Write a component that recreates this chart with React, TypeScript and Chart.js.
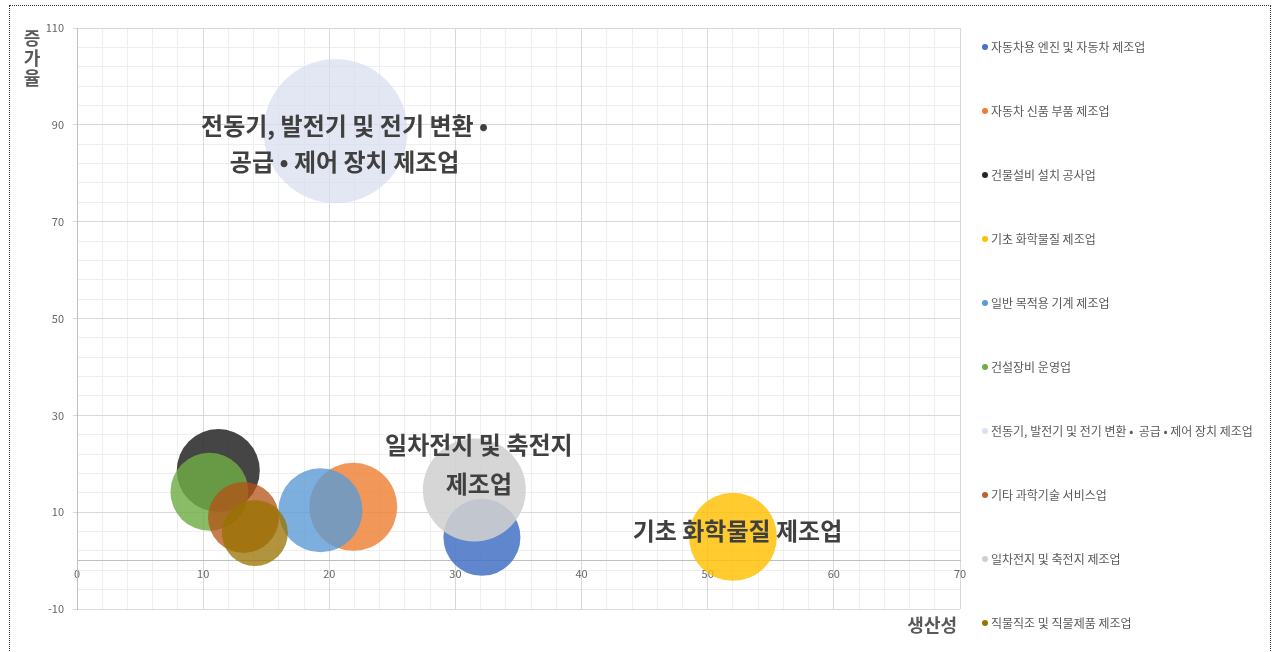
import React, { useEffect, useRef } from "react";
import { Chart, registerables } from "chart.js";

Chart.register(...registerables);

const seriesNames = [
  "자동차용 엔진 및 자동차 제조업",
  "자동차 신품 부품 제조업",
  "건물설비 설치 공사업",
  "기초 화학물질 제조업",
  "일반 목적용 기계 제조업",
  "건설장비 운영업",
  "전동기, 발전기 및 전기 변환 •  공급 • 제어 장치 제조업",
  "기타 과학기술 서비스업",
  "일차전지 및 축전지 제조업",
  "직물직조 및 직물제품 제조업",
];

const productivity = [32.1, 21.9, 11.2, 52.0, 19.3, 10.5, 20.5, 13.2, 31.5, 14.1];
const growthRate = [4.8, 11.1, 18.6, 4.9, 10.4, 14.2, 88.7, 8.9, 14.6, 5.7];
const bubbleSizes = [38.5, 44, 41.5, 44, 42, 39, 72, 35.5, 51.5, 33];

const fillColors = [
  "rgba(68,114,196,0.85)",
  "rgba(237,125,49,0.8)",
  "rgba(38,38,38,0.86)",
  "rgba(255,192,0,0.82)",
  "rgba(91,155,213,0.8)",
  "rgba(112,173,71,0.82)",
  "rgba(214,221,238,0.7)",
  "rgba(180,82,20,0.75)",
  "rgba(208,208,208,0.88)",
  "rgba(153,115,0,0.76)",
];
const legendColors = [
  "#4472C4",
  "#ED7D31",
  "#262626",
  "#FFC000",
  "#5B9BD5",
  "#70AD47",
  "#DAE3F3",
  "#C0602A",
  "#D0D0D0",
  "#997300",
];

const xTicks = [0, 10, 20, 30, 40, 50, 60, 70];
const yTicks = [-10, 10, 30, 50, 70, 90, 110];
const xMinorTicks = [2, 4, 6, 8, 12, 14, 16, 18, 22, 24, 26, 28, 32, 34, 36, 38, 42, 44, 46, 48, 52, 54, 56, 58, 62, 64, 66, 68];
const yMinorTicks = [-6, -2, 2, 6, 14, 18, 22, 26, 34, 38, 42, 46, 54, 58, 62, 66, 74, 78, 82, 86, 94, 98, 102, 106];

const xTitle = "생산성";
const yTitle = "증가율";

const bubbleLabelSeries = [6, 8, 3];
const bubbleLabelLines = [
  ["전동기, 발전기 및 전기 변환 •", "공급 • 제어 장치 제조업"],
  ["일차전지 및 축전지", "제조업"],
  ["기초 화학물질 제조업"],
];

const KR = "'Noto Sans CJK KR', 'Noto Sans', sans-serif";

// label placement relative to bubble centre (px)
const labelPlacement = [
  { dx: 9, dy: -5, lineGap: 36 },
  { dx: 4.5, dy: -45, lineGap: 39 },
  { dx: 4.5, dy: -6, lineGap: 36 },
];

const bubbleLabelPlugin = {
  id: "bubbleLabels",
  afterDatasetsDraw(chart: any) {
    const ctx = chart.ctx;
    ctx.save();
    ctx.font = `bold 24px ${KR}`;
    ctx.fillStyle = "#404040";
    ctx.textAlign = "center";
    ctx.textBaseline = "middle";
    bubbleLabelSeries.forEach((di, k) => {
      const el = chart.getDatasetMeta(di).data[0];
      if (!el) return;
      const p = labelPlacement[k];
      bubbleLabelLines[k].forEach((line, li) => {
        ctx.fillText(line, el.x + p.dx, el.y + p.dy + li * p.lineGap);
      });
    });
    ctx.restore();
  },
};

const decorPlugin = {
  id: "decor",
  afterDraw(chart: any) {
    const ctx = chart.ctx;
    const area = chart.chartArea;
    ctx.save();
    // legend
    ctx.textBaseline = "middle";
    ctx.textAlign = "left";
    ctx.font = `12px ${KR}`;
    seriesNames.forEach((name, i) => {
      const y = area.top + 19 + i * 64;
      const x = area.right + 25;
      ctx.beginPath();
      ctx.fillStyle = legendColors[i];
      ctx.arc(x, y, 3, 0, Math.PI * 2);
      ctx.fill();
      ctx.fillStyle = "#595959";
      ctx.fillText(name, x + 6, y);
    });
    // axis titles
    ctx.fillStyle = "#595959";
    ctx.font = `bold 18px ${KR}`;
    ctx.textAlign = "center";
    Array.from(yTitle).forEach((ch, i) => {
      ctx.fillText(ch, 32, 38 + i * 20);
    });
    ctx.textAlign = "right";
    ctx.font = `bold 18px ${KR}`;
    ctx.fillText(xTitle, area.right - 3, area.bottom + 16);
    ctx.restore();
  },
};

export default function App() {
  const canvasRef = useRef<HTMLCanvasElement | null>(null);

  useEffect(() => {
    if (!canvasRef.current) return;
    const datasets = seriesNames.map((name, i) => ({
      label: name,
      data: [{ x: productivity[i], y: growthRate[i], r: bubbleSizes[i] }],
      backgroundColor: fillColors[i],
      borderWidth: 0,
      hoverRadius: 0,
      order: seriesNames.length - i,
    }));
    const tickFont = { family: KR, size: 11 };
    const chart = new Chart(canvasRef.current, {
      type: "bubble",
      data: { datasets },
      plugins: [bubbleLabelPlugin, decorPlugin],
      options: {
        animation: false,
        responsive: true,
        maintainAspectRatio: false,
        events: [],
        layout: { autoPadding: false, padding: { left: 0, top: 28, right: 313, bottom: 43 } },
        plugins: { legend: { display: false }, tooltip: { enabled: false } },
        scales: {
          xMinor: {
            type: "linear",
            axis: "x",
            position: "bottom",
            min: 0,
            max: 70,
            afterBuildTicks: (s: any) => {
              s.ticks = xMinorTicks.map((v) => ({ value: v }));
            },
            afterFit: (s: any) => {
              s.height = 0;
            },
            ticks: { display: false },
            grid: { color: "#eeeeee", drawTicks: false, z: -2 },
            border: { display: false },
          },
          yMinor: {
            type: "linear",
            axis: "y",
            position: "left",
            min: -10,
            max: 110,
            afterBuildTicks: (s: any) => {
              s.ticks = yMinorTicks.map((v) => ({ value: v }));
            },
            afterFit: (s: any) => {
              s.width = 0;
            },
            ticks: { display: false },
            grid: { color: "#eeeeee", drawTicks: false, z: -2 },
            border: { display: false },
          },
          x: {
            type: "linear",
            position: { y: 0 },
            min: 0,
            max: 70,
            afterBuildTicks: (s: any) => {
              s.ticks = xTicks.map((v) => ({ value: v }));
            },
            ticks: { font: tickFont, color: "#666666", padding: 3, maxRotation: 0, autoSkip: false },
            grid: { color: "#d9d9d9", tickLength: 4 },
            border: { color: "#bfbfbf" },
          },
          y: {
            type: "linear",
            position: "left",
            min: -10,
            max: 110,
            afterBuildTicks: (s: any) => {
              s.ticks = yTicks.map((v) => ({ value: v }));
            },
            afterFit: (s: any) => {
              s.width = 77;
            },
            ticks: { font: tickFont, color: "#666666", padding: 9 },
            grid: { color: "#d9d9d9", tickLength: 4 },
            border: { color: "#bfbfbf" },
          },
        },
      } as any,
    });
    return () => chart.destroy();
  }, []);

  return (
    <div style={{ position: "absolute", left: 0, top: 0, width: 1273, height: 652, overflow: "hidden", background: "#fff" }}>
      <canvas ref={canvasRef} />
      <div
        style={{
          position: "absolute",
          left: 9,
          top: 5,
          width: 1260,
          height: 700,
          border: "1px dotted #333",
          pointerEvents: "none",
        }}
      />
    </div>
  );
}
